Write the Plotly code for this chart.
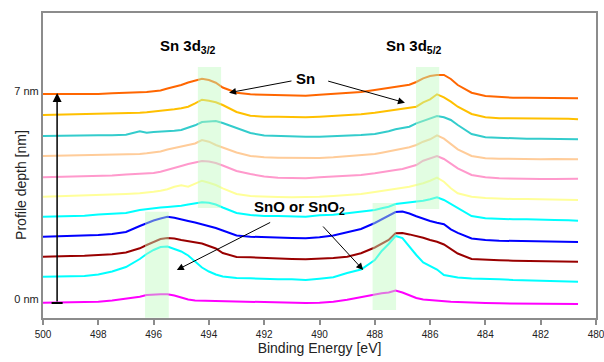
import plotly.graph_objects as go

# Binding energy grid [eV]
energy = [500, 499.5, 499, 498.5, 498, 497.5, 497, 496.5, 496.25, 496, 495.75, 495.5, 495.25,
          495, 494.75, 494.5, 494.25, 494, 493.75, 493.5, 493, 492.5, 492, 491.5, 491, 490.5,
          490, 489.5, 489, 488.5, 488, 487.75, 487.5, 487.25, 487, 486.75, 486.5, 486.25, 486,
          485.75, 485.5, 485.25, 485, 484.5, 484, 483.5, 483, 482.5, 482, 481.5, 481, 480.65]

# Stacked spectra (intensity incl. offset, a.u.), from 7 nm (top) to 0 nm (bottom)
depth_7_0 = [224, 224, 223.7, 224.3, 224, 224.7, 225.3, 225.3, 226, 226.7, 227.5, 229.5, 231,
             233, 235.5, 237.5, 239.3, 238, 235.3, 230.5, 225.3, 223.7, 223.3, 223, 222.7, 222.3,
             223.3, 224, 225.3, 226, 228, 229, 230, 230.7, 232, 233.3, 236, 239.7, 242, 243,
             243, 239, 233, 225.3, 222, 221, 220.3, 220.3, 220, 220.3, 220, 219.7]
depth_6_3 = [203, 203.3, 203.3, 203.7, 204, 204.3, 204.7, 205.3, 205.7, 206.3, 207, 208, 208.7,
             209.7, 211.3, 214.7, 218.3, 217.3, 215.7, 213, 206, 202.3, 201.3, 201.3, 200.7, 200.7,
             201.3, 202, 203, 203.7, 205.3, 206.3, 207.3, 208, 209.3, 210, 211.3, 215.7, 218.7, 223.7,
             220.7, 216.3, 211.3, 204, 200.7, 199.7, 199.7, 199.3, 199.3, 199, 199.3, 198.7]
depth_5_6 = [182, 182.3, 182, 182.3, 182.7, 182.7, 183.3, 186.7, 185.3, 186, 186.3, 186.7, 187.3,
             188, 190, 192.7, 196, 196.5, 197, 195, 190, 185, 182.5, 182, 181.7, 181.3,
             181.3, 181.7, 182.3, 183, 184, 185.3, 186.7, 188.7, 189.7, 191.3, 194.7, 197.3, 200, 202,
             200.7, 198, 193, 184, 180.7, 180, 179.7, 179.3, 179.3, 179, 179.3, 178.7]
depth_4_9 = [162, 162.3, 162, 162.7, 162.7, 163.3, 163.7, 164, 164.7, 165.3, 166.5, 168.5, 170,
             171.5, 172.5, 174.5, 178, 176.3, 173, 170.3, 165.5, 162, 160.7, 160.3, 160, 159.7,
             160, 160.7, 161.7, 162.3, 164, 165.3, 166.7, 168, 169.3, 170.7, 173, 176.3, 178.7, 182.7,
             179.3, 174, 168.7, 162, 159.7, 159.3, 159, 159, 158.7, 159, 158.7, 158.7]
depth_4_2 = [140.7, 141, 141.3, 141.3, 141.7, 142.5, 143.5, 144, 144.5, 145, 146.3, 148, 150,
             152, 154, 155.5, 157, 156.5, 155, 152.5, 147, 144, 141.5, 140.3, 140, 139.7,
             140.7, 141.3, 142, 143, 144.7, 146, 147, 148, 149, 150.7, 153, 157.3, 159.3, 162,
             159, 154.7, 149.7, 143, 140.7, 139.7, 139.3, 139.3, 139, 139, 139, 139.3]
depth_3_5 = [121.3, 121.7, 122, 122.3, 122.7, 123.3, 124, 124.7, 125.3, 126.3, 127.3, 128.7, 131.3,
             132.7, 131.3, 134, 137.3, 135.3, 133, 129.7, 124, 122, 121.3, 121, 120.7, 120.7,
             121.3, 122, 123, 124, 126, 127, 128, 129, 130, 131.3, 133, 134.7, 137.3, 140.3,
             136.3, 129.7, 124.7, 121.3, 120, 119.3, 119, 119, 118.7, 118.7, 118.3, 118]
depth_2_8 = [101.3, 101.7, 102, 102.3, 103.5, 104, 105, 108, 109, 110, 110.5, 111, 111.5,
             112.3, 113.5, 114.5, 115.8, 115.3, 113.5, 110.5, 105, 103, 102, 102, 101.3, 101.3,
             102.7, 103.3, 104.7, 106.3, 108, 109.7, 111.3, 114, 114.7, 115.3, 116.3, 117.3, 118.7, 120.7,
             118, 114, 109.7, 102, 99.7, 99, 98.7, 98.7, 98, 98, 97.7, 97.3]
depth_2_1 = [81.3, 81.7, 82, 82.3, 83, 84, 86, 92, 95, 97.5, 99.5, 101.3, 100.3,
             98.3, 97, 95.5, 93.7, 92, 90, 87.5, 82.5, 81.3, 80.7, 80.3, 80, 79.7,
             80.7, 82.5, 85.5, 89, 95, 98.5, 102, 106, 106.5, 104.5, 101.7, 99.2, 97, 95.3,
             93.8, 88.6, 85.2, 79.5, 78, 77.3, 77, 76.7, 76.7, 76.3, 76.3, 76]
depth_1_4 = [61.3, 61.3, 62, 62.3, 63, 63.7, 65.5, 69.7, 73, 76, 79, 80, 79.5,
             78, 77, 76, 74.5, 72, 69.5, 65, 61, 60.7, 60, 59.7, 59, 58.7,
             59.3, 60, 61.3, 64.8, 70.5, 74, 78, 84.8, 85, 83.6, 82, 80.3, 78, 76.2,
             73.5, 69, 64.5, 59, 58, 57.7, 57.3, 57, 57, 56.7, 56.7, 56.3]
depth_0_7 = [41.3, 41.3, 41.7, 42, 43.5, 46.5, 51, 59, 64, 68, 71, 71.5, 69,
             66.5, 62.5, 56, 50.5, 46.5, 43.5, 41.5, 40, 39.7, 39, 38.7, 38.7, 38,
             39.3, 40.7, 45, 48.5, 58, 67, 74, 82, 80, 71, 63, 55.5, 52, 48.5,
             43, 41.5, 40.5, 39.5, 39.3, 38.7, 38, 37.7, 37.3, 37, 36.7, 36.3]
depth_0_0 = [15.3, 15.5, 15.7, 16, 16.3, 17.5, 19.3, 21.3, 23, 23.7, 23.8, 23.7, 22.5,
             20.5, 18.5, 17.5, 17.3, 17.2, 17, 16.8, 16.3, 16, 15.8, 15.5, 15.3, 15,
             15.2, 16.3, 18.3, 21, 24, 24.8, 25.5, 27.5, 25.5, 22.5, 20, 18.5, 17.8, 17.2,
             16.8, 16.3, 16, 15.3, 15, 14.7, 14.7, 14.5, 14.7, 14.3, 14.3, 14]

series = [
    (depth_7_0, "#FF6600"), (depth_6_3, "#FFC000"), (depth_5_6, "#33CCCC"),
    (depth_4_9, "#FFCC99"), (depth_4_2, "#FF99CC"), (depth_3_5, "#FFFF99"),
    (depth_2_8, "#00FFFF"), (depth_2_1, "#0000FF"), (depth_1_4, "#990000"),
    (depth_0_7, "#00FFFF"), (depth_0_0, "#FF00FF"),
]

# Highlighted peak windows: (E_high, E_low, y_bottom, y_top)
peak_windows = [(494.4, 493.56, 110, 251), (486.51, 485.67, 109, 251),
                (496.31, 495.45, 0.3, 106.3), (488.08, 487.23, 8, 115)]

depth_ticks = [19, 227]
depth_labels = ["0 nm", "7 nm"]
x_ticks = list(range(480, 501, 2))

FONT = "Arial, Liberation Sans, sans-serif"

fig = go.Figure()
for vals, col in series:
    fig.add_trace(go.Scatter(x=energy, y=vals, mode="lines",
                             line=dict(color=col, width=2), showlegend=False,
                             hoverinfo="skip"))

for x0, x1, y0, y1 in peak_windows:
    fig.add_shape(type="rect", xref="x", yref="y", x0=x0, x1=x1, y0=y0, y1=y1,
                  fillcolor="rgba(190,250,190,0.45)", line=dict(width=0), layer="above")

# depth arrow
arrow_x, arrow_y0, arrow_y1 = 499.49, 15, 225
fig.add_annotation(x=arrow_x, y=arrow_y1, ax=arrow_x, ay=arrow_y0, xref="x", yref="y",
                   axref="x", ayref="y", text="", showarrow=True, arrowhead=2,
                   arrowsize=1.2, arrowwidth=1.5, arrowcolor="black")
fig.add_shape(type="line", xref="x", yref="y", x0=arrow_x + 0.2, x1=arrow_x - 0.2,
              y0=arrow_y0, y1=arrow_y0, line=dict(color="black", width=2))

# pointer arrows (head, tail)
pointers = [((493.27, 225.3), (490.96, 237.3)), ((486.91, 215.3), (489.74, 237.3)),
            ((495.16, 48), (491.73, 96.3)), ((488.42, 48), (489.92, 93))]
for (hx, hy), (tx, ty) in pointers:
    fig.add_annotation(x=hx, y=hy, ax=tx, ay=ty, xref="x", yref="y", axref="x", ayref="y",
                       text="", showarrow=True, arrowhead=2, arrowsize=1.4, arrowwidth=1,
                       arrowcolor="black")

labels = [(494.76, 272, "<b>Sn 3d<sub>3/2</sub></b>"), (486.58, 272, "<b>Sn 3d<sub>5/2</sub></b>"),
          (490.49, 240, "<b>Sn</b>"), (490.72, 111, "<b>SnO or SnO<sub>2</sub></b>")]
for lx, ly, lt in labels:
    fig.add_annotation(x=lx, y=ly, xref="x", yref="y", text=lt, showarrow=False,
                       font=dict(family=FONT, size=15, color="black"))

fig.add_annotation(x=-0.04, y=133, xref="paper", yref="y", text="Profile depth [nm]",
                   textangle=-90, showarrow=False, xanchor="center", yanchor="middle",
                   font=dict(family=FONT, size=14, color="#222"))

fig.update_layout(
    width=604, height=362, margin=dict(l=43, r=8, t=13, b=44, autoexpand=False),
    paper_bgcolor="white", plot_bgcolor="white",
    font=dict(family=FONT, color="#222"),
    xaxis=dict(range=[500, 480], tickvals=x_ticks, ticks="outside", ticklen=5,
               tickcolor="#8c8c8c", tickwidth=1.5, showline=True, linecolor="#8c8c8c",
               linewidth=2, mirror=True, showgrid=False, zeroline=False,
               ticklabelstandoff=1, automargin=False, ticklabeloverflow="allow",
               tickfont=dict(size=10, family=FONT, color="#222"),
               title=dict(text="Binding Energy [eV]", font=dict(size=14, family=FONT, color="#222"),
                          standoff=4)),
    yaxis=dict(range=[0, 305], tickvals=depth_ticks, ticktext=depth_labels, ticks="",
               showline=True, linecolor="#8c8c8c", linewidth=2, mirror=True,
               showgrid=False, zeroline=False, automargin=False,
               tickfont=dict(size=11, family=FONT, color="#222")),
)

fig.write_html("out.html")
